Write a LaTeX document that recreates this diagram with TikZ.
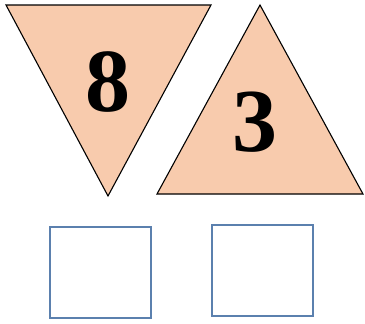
\documentclass[tikz,border=0pt]{standalone}
\usepackage{fontspec}
\setmainfont{Liberation Serif}
\definecolor{peach}{HTML}{F8CBAD}
\definecolor{boxblue}{HTML}{5B80AE}
\begin{document}
\begin{tikzpicture}[x=1pt,y=-1pt,
  tri/.style={fill=peach,draw=black,line width=1.1pt,line join=miter},
  sq/.style={draw=boxblue,line width=2pt,fill=white},
  digit/.style={font=\fontsize{90}{90}\selectfont\bfseries,inner sep=0pt}]
\useasboundingbox (0,0) rectangle (365,324);
\draw[tri] (6,5) -- (211,5) -- (108,196) -- cycle;
\draw[tri] (260,5) -- (363,194) -- (157,194) -- cycle;
\node[digit] (eight) at (108,82) {8};
\node[digit] (three) at (255,122) {3};
\draw[sq] (50,227) rectangle (151,318);
\draw[sq] (212,225) rectangle (313,316);
\end{tikzpicture}
\end{document}
